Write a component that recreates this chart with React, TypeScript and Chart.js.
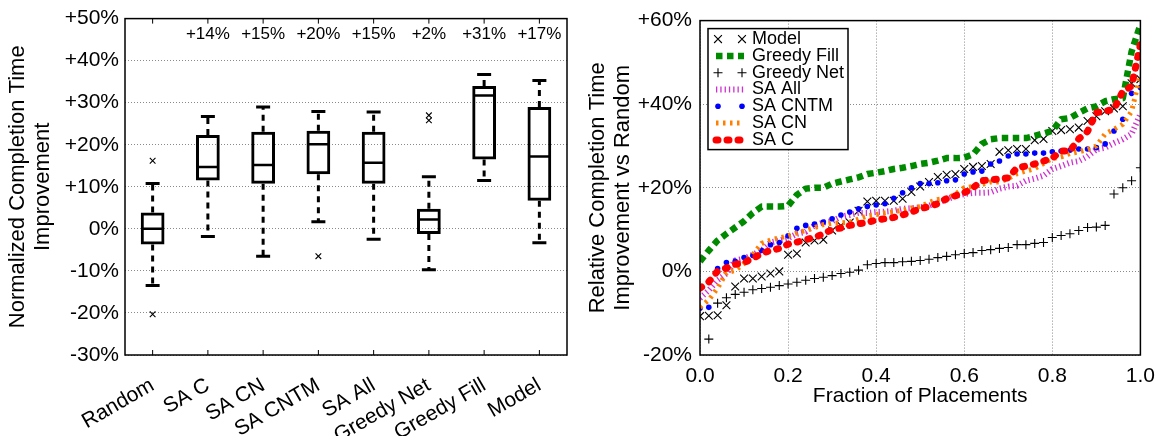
import React, { useEffect, useRef } from 'react';
import { Chart, registerables } from 'chart.js';

Chart.register(...registerables);

const FONT = '"Liberation Sans", Arial, Helvetica, sans-serif';

// ---------------- Left panel: box plots ----------------
const METHODS = ['Random', 'SA C', 'SA CN', 'SA CNTM', 'SA All', 'Greedy Net', 'Greedy Fill', 'Model'];
const WHISKER_LOW = [-13.5, -1.8, -6.5, 1.7, -2.5, -9.7, 11.5, -3.3];
const Q1 = [-3.7, 11.5, 10.7, 13.0, 10.7, -1.2, 16.5, 6.7];
const MEDIAN = [0.0, 14.7, 15.2, 20.1, 15.7, 2.2, 31.7, 17.2];
const Q3 = [3.9, 22.3, 23.1, 23.3, 23.1, 4.8, 34.0, 29.0];
const WHISKER_HIGH = [10.8, 26.7, 29.0, 27.9, 27.8, 12.4, 36.7, 35.3];
const OUTLIER_METHOD = ['Random', 'Random', 'SA CNTM', 'Greedy Net', 'Greedy Net'];
const OUTLIER_VALUE = [16.2, -20.3, -6.5, 27.0, 25.8];
const MEDIAN_LABELS = ['', '+14%', '+15%', '+20%', '+15%', '+2%', '+31%', '+17%'];
const MEDIAN_LABEL_LEVEL = 46.2;

// ---------------- Right panel: sorted improvements ----------------
const FRACTIONS = [
  0, 0.02, 0.04, 0.06, 0.08, 0.1, 0.12, 0.14, 0.16, 0.18,
  0.2, 0.22, 0.24, 0.26, 0.28, 0.3, 0.32, 0.34, 0.36, 0.38,
  0.4, 0.42, 0.44, 0.46, 0.48, 0.5, 0.52, 0.54, 0.56, 0.58,
  0.6, 0.62, 0.64, 0.66, 0.68, 0.7, 0.72, 0.74, 0.76, 0.78,
  0.8, 0.82, 0.84, 0.86, 0.88, 0.9, 0.92, 0.94, 0.96, 0.98, 1.0,
];
const MODEL = [
  -10.7, -10.6, -10.5, -8.1, -3.6, -1.7, -1.7, -1.2, -0.5, 0.0,
  4.0, 4.3, 6.9, 7.4, 7.6, 9.8, 11.0, 11.7, 14.5, 16.7,
  16.9, 16.9, 16.9, 17.4, 19.0, 20.3, 21.4, 22.6, 23.1, 23.3,
  24.5, 25.0, 25.2, 25.7, 28.6, 29.0, 29.3, 29.3, 31.4, 31.7,
  33.6, 33.8, 34.0, 34.4, 36.0, 37.1, 38.3, 39.0, 39.5, 45.0, 46.0,
];
const GREEDY_FILL = [
  2.4, 5.0, 7.4, 9.0, 10.5, 12.0, 14.0, 15.5, 15.5, 15.5,
  15.7, 18.3, 19.8, 20.0, 20.0, 21.0, 21.5, 22.0, 22.5, 23.3,
  23.6, 24.0, 24.5, 24.8, 25.2, 25.7, 26.0, 26.5, 27.1, 27.1,
  27.2, 28.0, 30.5, 31.6, 31.9, 31.9, 31.9, 31.9, 32.4, 33.0,
  33.6, 36.4, 36.7, 37.9, 39.0, 39.5, 40.7, 41.2, 41.4, 52.6, 59.0,
];
const GREEDY_NET = [
  null, -16.2, -7.6, -6.3, -5.5, -5.0, -4.4, -4.1, -3.8, -3.4,
  -3.0, -2.6, -2.1, -1.7, -1.4, -1.0, -0.5, -0.2, 0.3, 1.6,
  1.9, 2.1, 2.1, 2.3, 2.4, 2.6, 2.9, 3.3, 3.6, 4.0,
  4.3, 4.5, 5.0, 5.2, 5.5, 5.7, 6.4, 6.4, 6.7, 6.9,
  8.1, 8.6, 9.0, 9.8, 10.5, 10.6, 11.0, 18.5, 20.0, 21.7, 24.8,
];
const SA_ALL = [
  -6.4, -4.5, -2.1, -0.5, 2.6, 3.0, 4.0, 5.0, 6.9, 7.4,
  7.9, 9.0, 9.5, 11.0, 11.7, 12.0, 13.1, 13.5, 14.0, 14.0,
  14.2, 14.3, 14.5, 15.0, 15.1, 15.3, 15.7, 16.5, 17.2, 18.1,
  18.5, 18.8, 18.8, 18.9, 19.8, 20.3, 20.5, 21.7, 22.2, 22.9,
  24.5, 25.2, 26.0, 26.4, 27.5, 29.2, 29.6, 30.7, 31.6, 32.9, 37.6,
];
const SA_CNTM = [
  -8.8, -8.6, 0.7, 2.1, 2.4, 3.3, 3.8, 5.0, 6.4, 6.9,
  8.5, 10.3, 11.0, 11.3, 11.8, 12.6, 13.5, 14.2, 15.0, 15.5,
  15.9, 16.2, 17.5, 18.8, 20.0, 21.0, 21.0, 21.2, 21.7, 21.9,
  23.3, 23.8, 24.0, 25.7, 26.4, 27.6, 28.1, 28.1, 28.3, 28.3,
  28.6, 28.8, 29.0, 29.3, 29.3, 29.6, 30.5, 33.6, 36.4, 42.6, 44.0,
];
const SA_CN = [
  -8.6, -6.8, -4.0, -0.3, 0.2, 1.9, 4.0, 6.7, 7.5, 8.0,
  8.5, 9.2, 9.8, 10.5, 11.2, 11.5, 11.6, 11.8, 12.5, 13.3,
  13.6, 14.0, 14.3, 14.6, 15.2, 15.5, 16.5, 17.2, 17.4, 18.5,
  20.0, 20.3, 20.8, 21.4, 21.4, 22.2, 23.4, 24.0, 24.6, 25.8,
  27.0, 27.4, 28.2, 28.6, 29.2, 30.0, 32.9, 34.0, 35.2, 38.3, 47.0,
];
const SA_C = [
  -4.0, -2.5, 0.1, 0.8, 1.7, 2.1, 3.1, 4.3, 5.0, 5.5,
  6.5, 7.0, 7.6, 8.1, 9.0, 10.0, 10.4, 11.0, 11.4, 11.7,
  12.3, 12.6, 12.9, 13.5, 14.2, 15.0, 15.5, 16.2, 17.4, 18.1,
  18.8, 20.0, 21.7, 21.9, 22.1, 22.4, 24.8, 25.2, 25.7, 26.4,
  27.1, 28.8, 28.8, 31.7, 33.5, 38.0, 38.3, 38.8, 43.1, 44.3, 54.3,
];

const SERIES = [
  { name: 'Model', values: MODEL, kind: 'point', pointStyle: 'crossRot', color: '#000000', radius: 5.5, width: 1.1 },
  { name: 'Greedy Fill', values: GREEDY_FILL, kind: 'line', color: '#008a00', width: 6.5, dash: [6.5, 4.5], cap: 'butt' },
  { name: 'Greedy Net', values: GREEDY_NET, kind: 'point', pointStyle: 'cross', color: '#000000', radius: 4.5, width: 1.1 },
  { name: 'SA All', values: SA_ALL, kind: 'line', color: '#d030d0', width: 6, dash: [1.3, 3], cap: 'butt' },
  { name: 'SA CNTM', values: SA_CNTM, kind: 'point', pointStyle: 'circle', color: '#0000ff', radius: 2.8, width: 0 },
  { name: 'SA CN', values: SA_CN, kind: 'line', color: '#ff8000', width: 5, dash: [2.5, 4.5], cap: 'butt' },
  { name: 'SA C', values: SA_C, kind: 'line', color: '#ff0000', width: 7, dash: [2, 9], cap: 'round' },
];

const fmtPct = (v: number) => (v > 0 ? '+' : '') + v + '%';

const framePlugin = {
  id: 'frame',
  afterDraw(chart: any) {
    const { ctx, chartArea } = chart;
    ctx.save();
    ctx.strokeStyle = '#000';
    ctx.lineWidth = 1.5;
    ctx.setLineDash([]);
    ctx.strokeRect(chartArea.left, chartArea.top, chartArea.right - chartArea.left, chartArea.bottom - chartArea.top);
    ctx.restore();
  },
};

const boxExtrasPlugin = {
  id: 'boxExtras',
  afterDraw(chart: any) {
    const { ctx, chartArea, scales } = chart;
    const xs = scales.x;
    const ys = scales.y;
    ctx.save();
    ctx.strokeStyle = '#000';
    ctx.lineWidth = 1;
    METHODS.forEach((_, i) => {
      const px = xs.getPixelForValue(i);
      ctx.beginPath();
      ctx.moveTo(px, chartArea.bottom);
      ctx.lineTo(px, chartArea.bottom - 5);
      ctx.moveTo(px, chartArea.top);
      ctx.lineTo(px, chartArea.top + 5);
      ctx.stroke();
    });
    ctx.font = `17px ${FONT}`;
    ctx.fillStyle = '#000';
    ctx.textAlign = 'center';
    ctx.textBaseline = 'middle';
    MEDIAN_LABELS.forEach((t, i) => {
      if (t) ctx.fillText(t, xs.getPixelForValue(i), ys.getPixelForValue(MEDIAN_LABEL_LEVEL));
    });
    ctx.restore();
  },
};

const legendPlugin = {
  id: 'cdfLegend',
  afterDraw(chart: any) {
    const { ctx, chartArea } = chart;
    const x0 = chartArea.left + 8;
    const y0 = chartArea.top + 8;
    const w = 140;
    const h = 121;
    ctx.save();
    ctx.fillStyle = '#fff';
    ctx.fillRect(x0, y0, w, h);
    ctx.strokeStyle = '#000';
    ctx.lineWidth = 1.5;
    ctx.strokeRect(x0, y0, w, h);
    SERIES.forEach((s: any, i) => {
      const y = y0 + 10.5 + i * 16.8;
      ctx.save();
      if (s.kind === 'line') {
        ctx.strokeStyle = s.color;
        ctx.lineWidth = s.width;
        ctx.lineCap = s.cap;
        ctx.setLineDash(s.dash);
        ctx.beginPath();
        ctx.moveTo(x0 + 8, y);
        ctx.lineTo(x0 + 36, y);
        ctx.stroke();
      } else {
        [x0 + 10, x0 + 34].forEach((px) => {
          ctx.strokeStyle = s.color;
          ctx.fillStyle = s.color;
          ctx.lineWidth = s.width || 1;
          ctx.beginPath();
          if (s.pointStyle === 'crossRot') {
            const r = s.radius * 0.707;
            ctx.moveTo(px - r, y - r);
            ctx.lineTo(px + r, y + r);
            ctx.moveTo(px - r, y + r);
            ctx.lineTo(px + r, y - r);
            ctx.stroke();
          } else if (s.pointStyle === 'cross') {
            const r = s.radius;
            ctx.moveTo(px - r, y);
            ctx.lineTo(px + r, y);
            ctx.moveTo(px, y - r);
            ctx.lineTo(px, y + r);
            ctx.stroke();
          } else {
            ctx.arc(px, y, s.radius, 0, Math.PI * 2);
            ctx.fill();
          }
        });
      }
      ctx.restore();
      ctx.font = `18px ${FONT}`;
      ctx.fillStyle = '#000';
      ctx.textAlign = 'left';
      ctx.textBaseline = 'middle';
      ctx.fillText(s.name, x0 + 44, y);
    });
    ctx.restore();
  },
};

function BoxPanel() {
  const ref = useRef<HTMLCanvasElement | null>(null);
  useEffect(() => {
    if (!ref.current) return;
    const datasets: any[] = [];
    datasets.push({
      type: 'bar',
      data: METHODS.map((_, i) => [Q1[i], Q3[i]]),
      backgroundColor: 'rgba(0,0,0,0)',
      borderColor: '#000',
      borderWidth: 3,
      borderSkipped: false,
      grouped: false,
      barPercentage: 0.43,
      categoryPercentage: 1,
      order: 3,
    });
    METHODS.forEach((m, i) => {
      datasets.push({
        type: 'line',
        data: [{ x: m, y: Q3[i] }, { x: m, y: WHISKER_HIGH[i] }],
        borderColor: '#000',
        borderWidth: 3,
        borderDash: [6, 5],
        pointRadius: 0,
        order: 4,
      });
      datasets.push({
        type: 'line',
        data: [{ x: m, y: Q1[i] }, { x: m, y: WHISKER_LOW[i] }],
        borderColor: '#000',
        borderWidth: 3,
        borderDash: [6, 5],
        pointRadius: 0,
        order: 4,
      });
    });
    const pointSet = (data: any[], style: string, radius: number, width: number) => ({
      type: 'line',
      data,
      showLine: false,
      pointStyle: style,
      pointRadius: radius,
      pointBorderWidth: width,
      pointBorderColor: '#000',
      pointBackgroundColor: '#000',
      borderColor: '#000',
      order: 1,
    });
    datasets.push(pointSet(MEDIAN, 'line', 10.5, 2.5));
    datasets.push(pointSet(WHISKER_HIGH, 'line', 7, 3));
    datasets.push(pointSet(WHISKER_LOW, 'line', 7, 3));
    datasets.push(pointSet(OUTLIER_METHOD.map((m, i) => ({ x: m, y: OUTLIER_VALUE[i] })), 'crossRot', 4, 1.1));

    const chart = new Chart(ref.current, {
      type: 'bar',
      data: { labels: METHODS, datasets },
      options: {
        responsive: false,
        animation: false,
        events: [],
        layout: { padding: { left: 0, top: 18, right: 4, bottom: 0 } },
        plugins: { legend: { display: false }, tooltip: { enabled: false } },
        scales: {
          x: {
            type: 'category',
            offset: true,
            grid: { display: false },
            border: { display: false },
            ticks: {
              autoSkip: false,
              minRotation: 30,
              maxRotation: 30,
              padding: 10,
              color: '#000',
              font: { family: FONT, size: 21 },
            },
            afterFit: (s: any) => { s.height = 81; },
          },
          y: {
            min: -30,
            max: 50,
            ticks: {
              stepSize: 10,
              padding: 6,
              color: '#000',
              font: { family: FONT, size: 21 },
              callback: (v: any) => fmtPct(Number(v)),
            },
            grid: { color: '#8a8a8a', lineWidth: 1, drawTicks: false },
            border: { display: false, dash: [1, 2] },
            title: {
              display: true,
              text: ['Normalized Completion Time', 'Improvement'],
              color: '#000',
              font: { family: FONT, size: 22, lineHeight: 1.15 },
              padding: { top: 5, bottom: 0 },
            },
            afterFit: (s: any) => { s.width = 125; },
          },
        },
      } as any,
      plugins: [framePlugin, boxExtrasPlugin],
    });
    return () => chart.destroy();
  }, []);
  return <canvas ref={ref} width={580} height={436} style={{ width: 580, height: 436, display: 'block' }} />;
}

function CdfPanel() {
  const ref = useRef<HTMLCanvasElement | null>(null);
  useEffect(() => {
    if (!ref.current) return;
    const datasets = SERIES.map((s: any, i) => {
      const data = FRACTIONS.map((x, k) => ({ x, y: s.values[k] }));
      if (s.kind === 'point') {
        return {
          label: s.name,
          data,
          showLine: false,
          pointStyle: s.pointStyle,
          pointRadius: s.radius,
          pointBorderWidth: s.width,
          pointBorderColor: s.color,
          pointBackgroundColor: s.color,
          borderColor: s.color,
          order: SERIES.length - 1 - i,
        };
      }
      return {
        label: s.name,
        data,
        showLine: true,
        borderColor: s.color,
        borderWidth: s.width,
        borderDash: s.dash,
        borderCapStyle: s.cap,
        borderJoinStyle: 'round',
        pointRadius: 0,
        tension: 0,
        fill: false,
        order: SERIES.length - 1 - i,
      };
    });
    const chart = new Chart(ref.current, {
      type: 'line',
      data: { datasets },
      options: {
        responsive: false,
        animation: false,
        events: [],
        layout: { padding: { left: 0, top: 19, right: 16, bottom: 0 } },
        plugins: { legend: { display: false }, tooltip: { enabled: false } },
        scales: {
          x: {
            type: 'linear',
            min: 0,
            max: 1,
            ticks: {
              stepSize: 0.2,
              padding: 9,
              color: '#000',
              font: { family: FONT, size: 21 },
              callback: (v: any) => Number(v).toFixed(1),
            },
            grid: { color: '#8a8a8a', lineWidth: 1, drawTicks: false },
            border: { display: false, dash: [1, 2] },
            title: {
              display: true,
              text: 'Fraction of Placements',
              color: '#000',
              font: { family: FONT, size: 21, lineHeight: 1.2 },
              padding: { top: 0, bottom: 27 },
            },
            afterFit: (s: any) => { s.height = 81; },
          },
          y: {
            min: -20,
            max: 60,
            ticks: {
              stepSize: 20,
              padding: 8,
              color: '#000',
              font: { family: FONT, size: 21 },
              callback: (v: any) => fmtPct(Number(v)),
            },
            grid: { color: '#8a8a8a', lineWidth: 1, drawTicks: false },
            border: { display: false, dash: [1, 2] },
            title: {
              display: true,
              text: ['Relative Completion Time', 'Improvement vs Random'],
              color: '#000',
              font: { family: FONT, size: 22, lineHeight: 1.15 },
              padding: { top: 5, bottom: 0 },
            },
            afterFit: (s: any) => { s.width = 120; },
          },
        },
      } as any,
      plugins: [framePlugin, legendPlugin],
    });
    return () => chart.destroy();
  }, []);
  return <canvas ref={ref} width={584} height={436} style={{ width: 584, height: 436, display: 'block' }} />;
}

export default function App() {
  return (
    <div style={{ position: 'absolute', left: 0, top: 0, width: 1164, height: 436, background: '#fff', overflow: 'hidden' }}>
      <div style={{ position: 'absolute', left: 0, top: 0 }}>
        <BoxPanel />
      </div>
      <div style={{ position: 'absolute', left: 580, top: 0 }}>
        <CdfPanel />
      </div>
    </div>
  );
}
